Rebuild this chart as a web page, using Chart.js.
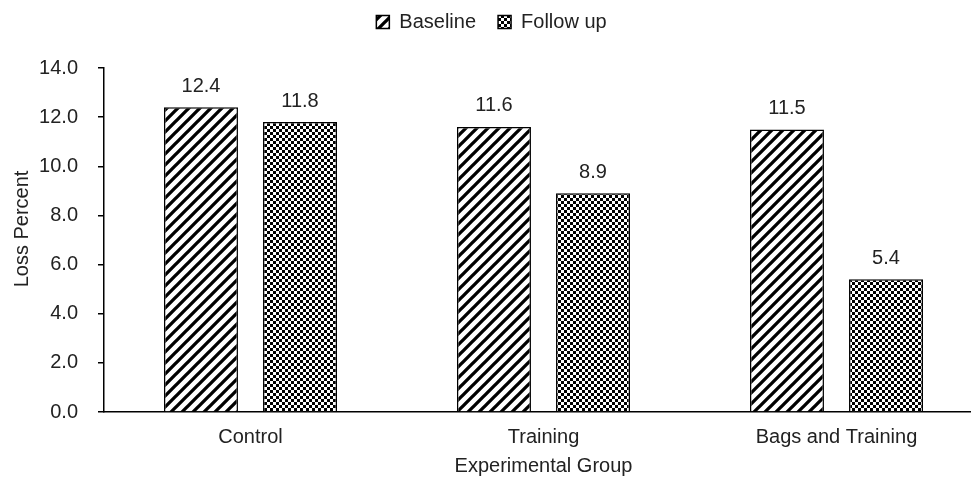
<!DOCTYPE html>
<html>
<head>
<meta charset="utf-8">
<script src="https://cdn.jsdelivr.net/npm/chart.js@4.4.1/dist/chart.umd.min.js"></script>
<style>
    html, body { margin: 0; padding: 0; background: #fff; overflow: hidden; }
    #wrap { width: 1000px; height: 478px; }
</style>
</head>
<body>
<div id="wrap"><canvas id="bar-chart" width="1000" height="478"></canvas></div>
<script>
const groups = ["Control", "Training", "Bags and Training"];
const baseline = [12.4, 11.6, 11.5];
const followUp = [11.8, 8.9, 5.4];
const yTicks = [0, 2, 4, 6, 8, 10, 12, 14];

const textColor = "#222";
const fontFamily = "'Liberation Sans', Arial, sans-serif";
const fontSize = 20;
Chart.defaults.font.family = fontFamily;
Chart.defaults.font.size = fontSize;
Chart.defaults.color = textColor;

// hatch "/" pattern for baseline
function stripePattern() {
    const s = 11;
    const c = document.createElement("canvas");
    c.width = s; c.height = s;
    const g = c.getContext("2d");
    g.fillStyle = "#fff";
    g.fillRect(0, 0, s, s);
    g.strokeStyle = "#000";
    g.lineWidth = 3.3;
    g.beginPath();
    g.moveTo(-s / 2, s / 2); g.lineTo(s / 2, -s / 2);
    g.moveTo(0, s); g.lineTo(s, 0);
    g.moveTo(s / 2, s * 1.5); g.lineTo(s * 1.5, s / 2);
    g.stroke();
    return g.createPattern(c, "repeat");
}

// small checkerboard for follow up
function checkerPattern() {
    const c = document.createElement("canvas");
    c.width = 6; c.height = 6;
    const g = c.getContext("2d");
    g.fillStyle = "#fff";
    g.fillRect(0, 0, 6, 6);
    g.fillStyle = "#000";
    g.fillRect(0, 0, 3, 3);
    g.fillRect(3, 3, 3, 3);
    return g.createPattern(c, "repeat");
}

// leave a gap under the legend, like the original
const legendGap = {
    id: "legendGap",
    afterInit(chart) {
        const lg = chart.legend;
        const origFit = lg.fit;
        lg.fit = function () {
            origFit.call(this);
            this.height += 26;
        };
    }
};

// value labels above the bars + y axis title
const valueLabels = {
    id: "valueLabels",
    afterDatasetsDraw(chart) {
        const ctx = chart.ctx;
        ctx.save();
        ctx.font = fontSize + "px " + fontFamily;
        ctx.fillStyle = textColor;
        ctx.textAlign = "center";
        ctx.textBaseline = "middle";
        chart.data.datasets.forEach(function (ds, i) {
            chart.getDatasetMeta(i).data.forEach(function (bar, j) {
                ctx.fillText(ds.data[j].toFixed(1), bar.x, bar.y - 21);
            });
        });
        // axis title
        const area = chart.chartArea;
        ctx.translate(22, (area.top + area.bottom) / 2 - 11);
        ctx.rotate(-Math.PI / 2);
        ctx.fillText("Loss Percent", 0, 0);
        ctx.restore();
    }
};

const ctx = document.getElementById("bar-chart").getContext("2d");
const myChart = new Chart(ctx, {
    type: "bar",
    data: {
        labels: groups,
        datasets: [{
            label: "Baseline",
            data: baseline,
            backgroundColor: stripePattern(),
            borderColor: "#000",
            borderWidth: 1.5
        }, {
            label: "Follow up",
            data: followUp,
            backgroundColor: checkerPattern(),
            borderColor: "#000",
            borderWidth: 1.5
        }]
    },
    options: {
        responsive: false,
        animation: false,
        categoryPercentage: 0.676,
        barPercentage: 0.747,
        layout: { padding: { left: 0, right: 17, top: -10, bottom: 0 } },
        plugins: {
            legend: {
                position: "top",
                labels: {
                    boxWidth: 13,
                    boxHeight: 13,
                    padding: 22,
                    font: { size: fontSize }
                }
            },
            tooltip: { enabled: false }
        },
        scales: {
            x: {
                grid: { display: false },
                border: { display: true, color: "#000", width: 1.5 },
                ticks: { padding: 5, font: { size: fontSize } },
                title: {
                    display: true,
                    text: "Experimental Group",
                    font: { size: fontSize },
                    padding: { top: 4, bottom: 0 }
                },
                afterFit: function (scale) { scale.height = 66; }
            },
            y: {
                min: 0,
                max: 14,
                afterBuildTicks: function (scale) {
                    scale.ticks = yTicks.map(function (v) { return { value: v }; });
                },
                grid: {
                    drawOnChartArea: false,
                    tickLength: 6,
                    color: "#000",
                    lineWidth: 1.5
                },
                border: { display: true, color: "#000", width: 1.5 },
                ticks: {
                    padding: 20,
                    font: { size: fontSize },
                    callback: function (v) { return Number(v).toFixed(1); }
                },
                afterFit: function (scale) { scale.width = 104; }
            }
        }
    },
    plugins: [legendGap, valueLabels]
});
</script>
</body>
</html>
